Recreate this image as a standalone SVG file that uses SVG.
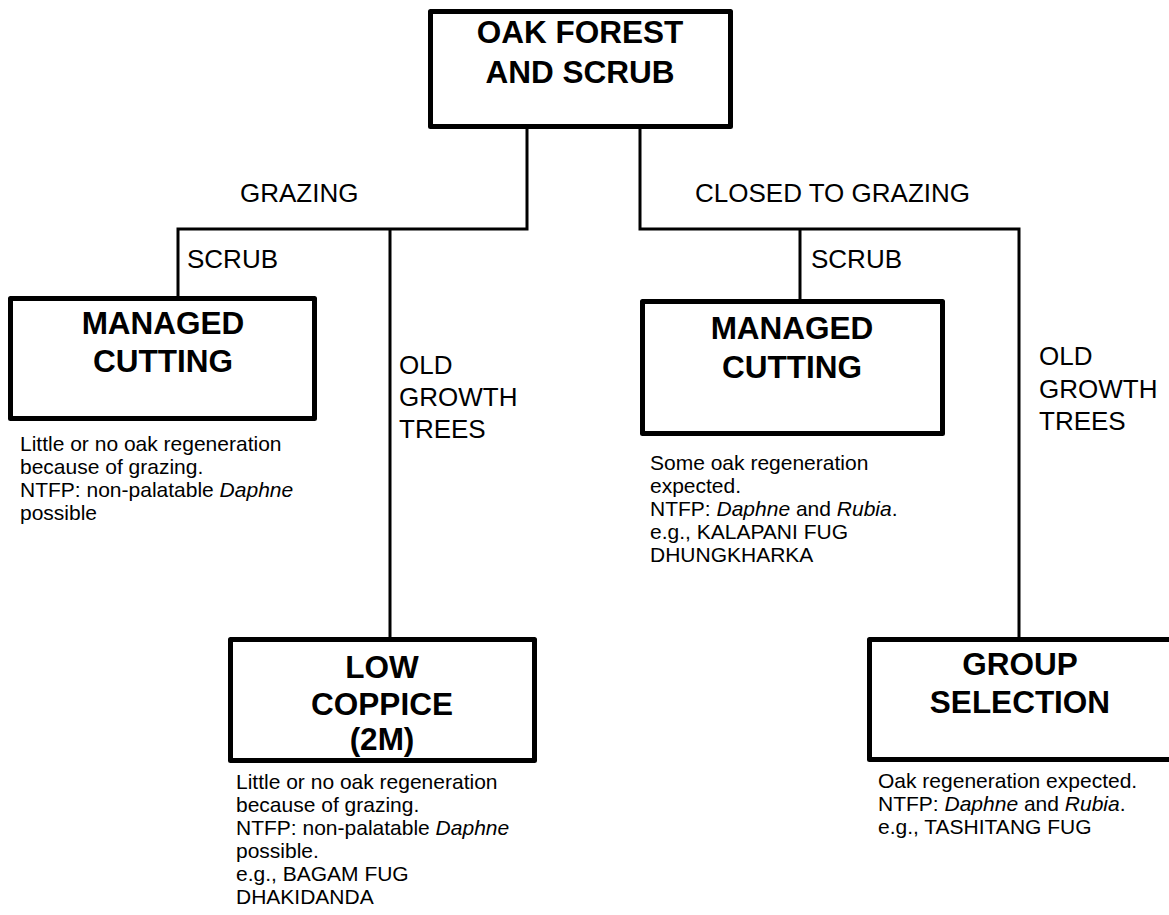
<svg xmlns="http://www.w3.org/2000/svg" width="1169" height="915" viewBox="0 0 1169 915">
<style>
.box{fill:#fff;stroke:#000;stroke-width:5;stroke-linejoin:round}
.ln{fill:none;stroke:#000;stroke-width:3}
.t{font-family:"Liberation Sans",Arial,sans-serif;font-weight:bold;font-size:31.5px;text-anchor:middle;fill:#000}
.lb{font-family:"Liberation Sans",Arial,sans-serif;font-size:26px;fill:#000}
.d{font-family:"Liberation Sans",Arial,sans-serif;font-size:21px;fill:#000}
</style>
<rect width="1169" height="915" fill="#fff"/>
<g id="connectors">
<path class="ln" d="M527,128 V229 H178 V296"/>
<path class="ln" d="M390,229 V637"/>
<path class="ln" d="M640,128 V229 H1019 V637"/>
<path class="ln" d="M800,229 V299"/>
</g>
<g id="labels">
<text class="lb" x="240" y="202">GRAZING</text>
<text class="lb" x="695" y="202">CLOSED TO GRAZING</text>
<text class="lb" x="187" y="268">SCRUB</text>
<text class="lb" x="811" y="268">SCRUB</text>
<text class="lb" x="399" y="374">OLD</text>
<text class="lb" x="399" y="406">GROWTH</text>
<text class="lb" x="399" y="438">TREES</text>
<text class="lb" x="1039" y="365">OLD</text>
<text class="lb" x="1039" y="398">GROWTH</text>
<text class="lb" x="1039" y="430">TREES</text>
</g>
<g id="oak-forest">
<rect class="box" x="430.5" y="11.5" width="300" height="115"/>
<text class="t" x="580" y="43">OAK FOREST</text>
<text class="t" x="580" y="83">AND SCRUB</text>
</g>
<g id="managed-cutting-grazing">
<rect class="box" x="10.5" y="298.5" width="304" height="120"/>
<text class="t" x="163" y="334">MANAGED</text>
<text class="t" x="163" y="372">CUTTING</text>
<text class="d" x="20" y="451">Little or no oak regeneration</text>
<text class="d" x="20" y="474">because of grazing.</text>
<text class="d" x="20" y="497">NTFP: non-palatable <tspan font-style="italic">Daphne</tspan></text>
<text class="d" x="20" y="520">possible</text>
</g>
<g id="low-coppice">
<rect class="box" x="230.5" y="639.5" width="304" height="121"/>
<text class="t" x="382" y="678">LOW</text>
<text class="t" x="382" y="715">COPPICE</text>
<text class="t" x="382" y="750">(2M)</text>
<text class="d" x="236" y="789">Little or no oak regeneration</text>
<text class="d" x="236" y="812">because of grazing.</text>
<text class="d" x="236" y="835">NTFP: non-palatable <tspan font-style="italic">Daphne</tspan></text>
<text class="d" x="236" y="858">possible.</text>
<text class="d" x="236" y="881">e.g., BAGAM FUG</text>
<text class="d" x="236" y="904">DHAKIDANDA</text>
</g>
<g id="managed-cutting-closed">
<rect class="box" x="642.5" y="301.5" width="300" height="132"/>
<text class="t" x="792" y="339">MANAGED</text>
<text class="t" x="792" y="378">CUTTING</text>
<text class="d" x="650" y="470">Some oak regeneration</text>
<text class="d" x="650" y="493">expected.</text>
<text class="d" x="650" y="516">NTFP: <tspan font-style="italic">Daphne</tspan> and <tspan font-style="italic">Rubia</tspan>.</text>
<text class="d" x="650" y="539">e.g., KALAPANI FUG</text>
<text class="d" x="650" y="562">DHUNGKHARKA</text>
</g>
<g id="group-selection">
<rect class="box" x="869.5" y="639.5" width="304" height="120"/>
<text class="t" x="1020" y="675">GROUP</text>
<text class="t" x="1020" y="713">SELECTION</text>
<text class="d" x="878" y="788">Oak regeneration expected.</text>
<text class="d" x="878" y="811">NTFP: <tspan font-style="italic">Daphne</tspan> and <tspan font-style="italic">Rubia</tspan>.</text>
<text class="d" x="878" y="834">e.g., TASHITANG FUG</text>
</g>
</svg>
